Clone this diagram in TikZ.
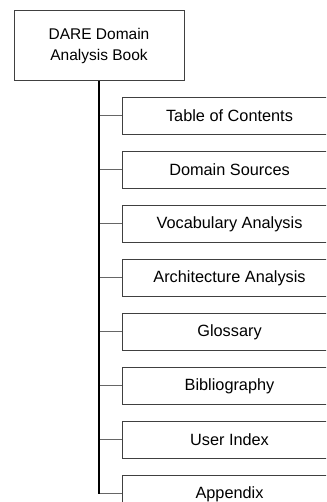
\documentclass[tikz,border=0pt]{standalone}
\usepackage{fontspec}
\setmainfont{Liberation Sans}
\usepackage{tikz}
\usetikzlibrary{positioning}
\tikzset{
%Define style for the boxes
book box/.style={draw=black!75, line width=1pt, minimum width=170pt, minimum height=70pt,
  align=center, font=\fontsize{15.5pt}{21.5pt}\selectfont},
part box/.style={draw=black!75, line width=1pt, minimum width=214pt, minimum height=37pt,
  inner sep=0pt, font=\fontsize{16.3pt}{18pt}\selectfont},
%Define style for the lines
trunk/.style={black, line width=1.8pt},
branch/.style={black!60, line width=1pt},
}

\begin{document}
\begin{tikzpicture}
    %Fix the size of the page
    \useasboundingbox (0,0) rectangle (326pt,502pt);
    \clip (0,0) rectangle (326pt,502pt);
    %The book itself
    \node[book box] (book) at (99pt,456pt) {DARE Domain\\Analysis Book};
    %The parts of the book
    \node[part box, anchor=north west] (toc) at (122pt,405pt) {Table of Contents};
    \node[part box, below=16pt of toc] (sources) {Domain Sources};
    \node[part box, below=16pt of sources] (vocab) {Vocabulary Analysis};
    \node[part box, below=16pt of vocab] (arch) {Architecture Analysis};
    \node[part box, below=16pt of arch] (gloss) {Glossary};
    \node[part box, below=16pt of gloss] (biblio) {Bibliography};
    \node[part box, below=16pt of biblio] (index) {User Index};
    \node[part box, below=16pt of index] (appendix) {Appendix};
    %Connect the parts to the book
    \draw[branch] (book.south |- toc.west) -- (toc.west);
    \draw[branch] (book.south |- sources.west) -- (sources.west);
    \draw[branch] (book.south |- vocab.west) -- (vocab.west);
    \draw[branch] (book.south |- arch.west) -- (arch.west);
    \draw[branch] (book.south |- gloss.west) -- (gloss.west);
    \draw[branch] (book.south |- biblio.west) -- (biblio.west);
    \draw[branch] (book.south |- index.west) -- (index.west);
    \draw[branch] (book.south |- appendix.west) -- (appendix.west);
    %The main line
    \draw[trunk] (book.south) -- (book.south |- appendix.west);
\end{tikzpicture}
\end{document}
